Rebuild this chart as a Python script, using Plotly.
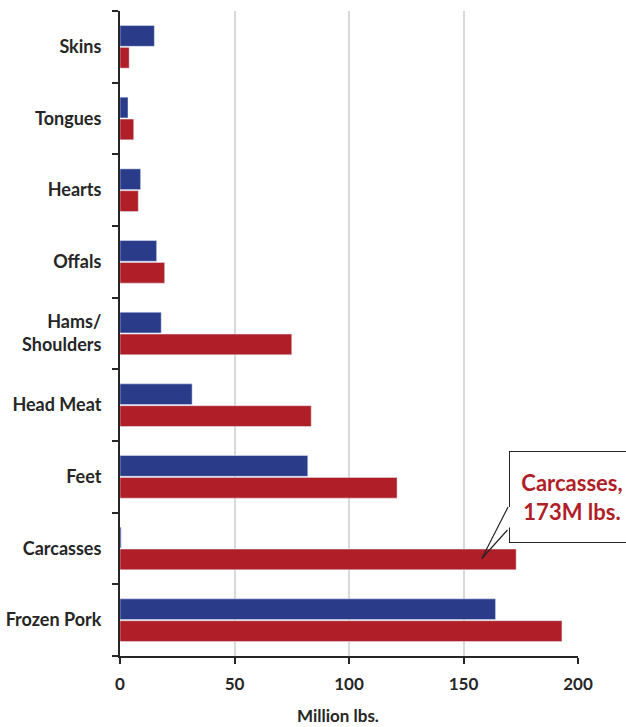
import plotly.graph_objects as go

categories = ["Frozen Pork", "Carcasses", "Feet", "Head Meat", "Hams/<br>Shoulders",
              "Offals", "Hearts", "Tongues", "Skins"]
blue_values = [164, 0.5, 82, 31.5, 18, 16, 9, 3.5, 15]
red_values = [193, 173, 121, 83.5, 75, 19.5, 8, 6, 4]
x_ticks = [0, 50, 100, 150, 200]

BLUE = "#2A3B8A"
RED = "#B01E28"
FONT = "Lato"
INK = "#262626"

fig = go.Figure()
fig.add_trace(go.Bar(y=categories, x=red_values, orientation="h",
                     marker=dict(color=RED), name="red"))
fig.add_trace(go.Bar(y=categories, x=blue_values, orientation="h",
                     marker=dict(color=BLUE), name="blue"))

fig.update_layout(
    width=626, height=727,
    margin=dict(l=120, r=48, t=11, b=71),
    paper_bgcolor="white", plot_bgcolor="white",
    barmode="group", bargap=0.39, bargroupgap=0.05,
    showlegend=False,
    font=dict(family=FONT, color=INK),
)
fig.update_xaxes(
    range=[0, 200], tickvals=x_ticks,
    showgrid=True, gridcolor="#D9D9D9", gridwidth=2,
    showline=True, linecolor=INK, linewidth=2,
    ticks="outside", ticklen=6, tickwidth=2, tickcolor=INK,
    tickfont=dict(size=17, family=FONT, weight="bold", color=INK),
    ticklabelstandoff=6,
    zeroline=False, automargin=False,
)
fig.update_yaxes(
    type="category",
    showline=True, linecolor=INK, linewidth=2,
    ticks="outside", ticklen=6, tickwidth=2, tickcolor=INK,
    tickson="boundaries",
    tickfont=dict(size=18, family=FONT, weight="bold", color=INK),
    ticklabelstandoff=13,
    showgrid=False, automargin=False,
)

# axis title
fig.add_annotation(
    x=0.475, y=0, xref="paper", yref="paper", yshift=-59,
    text="Million lbs.", showarrow=False,
    font=dict(size=17, family=FONT, weight="bold", color=INK),
    xanchor="center", yanchor="middle",
)

# callout box
fig.add_annotation(
    x=158, y="Carcasses", xref="x", yref="y",
    xshift=90, yshift=52,
    text="Carcasses,<br>173M lbs.",
    font=dict(size=22, family=FONT, weight="bold", color=RED),
    showarrow=False,
    bgcolor="white", bordercolor=INK, borderwidth=1, borderpad=6,
    width=112, height=78, align="center",
)

# gap in the box border where the tail opens
fig.add_annotation(
    x=158, y="Carcasses", xref="x", yref="y", xshift=27, yshift=21,
    text="", showarrow=True, arrowhead=0, arrowwidth=2.5, arrowcolor="white",
    ax=0, ay=-22, standoff=0, startstandoff=0,
)

# callout tail (two lines)
for ax_, ay_ in [(27, -53), (27, -30)]:
    fig.add_annotation(
        x=158, y="Carcasses", xref="x", yref="y", yshift=-10,
        text="", showarrow=True, arrowhead=0, arrowwidth=1.2, arrowcolor=INK,
        ax=ax_, ay=ay_, standoff=0, startstandoff=0,
    )

fig.write_html("out.html")
